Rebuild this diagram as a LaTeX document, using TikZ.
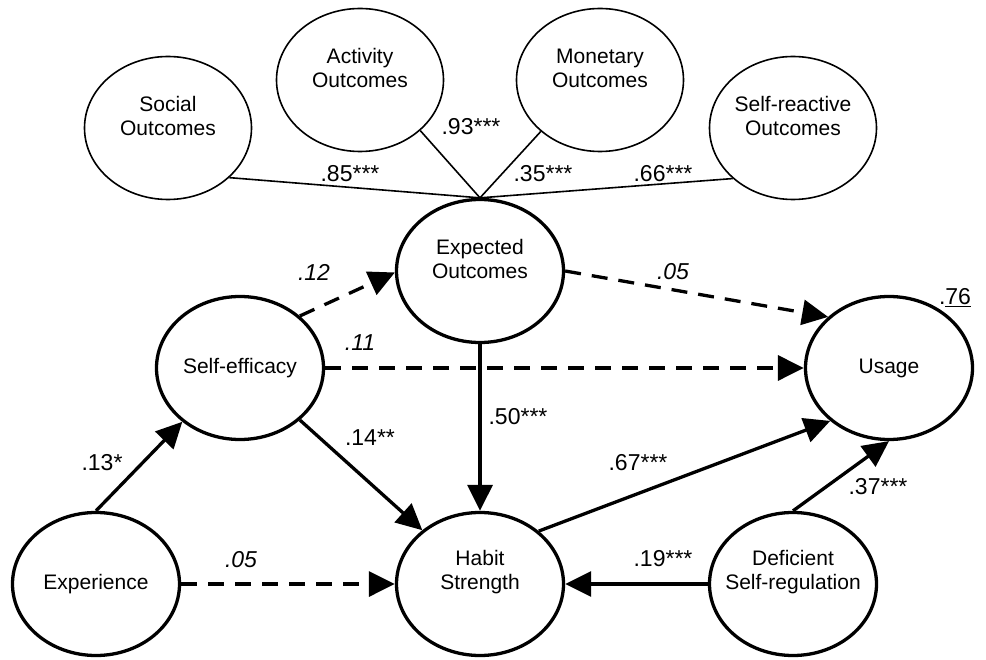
\documentclass[tikz,border=0pt]{standalone}
\usepackage{fontspec}
\setmainfont{Liberation Sans}
\usetikzlibrary{arrows.meta,shapes.geometric}
\begin{document}
\begin{tikzpicture}[x=1pt,y=-1pt,
  latent/.style={ellipse,draw,line width=3.3pt,minimum width=167pt,minimum height=143pt,inner sep=0pt},
  indicator/.style={ellipse,draw,line width=1.6pt,minimum width=167pt,minimum height=143pt,inner sep=0pt},
  vname/.style={align=center,font=\fontsize{21}{24}\selectfont,inner sep=0pt},
  coef/.style={font=\fontsize{23}{27}\selectfont,inner sep=0pt},
  nscoef/.style={font=\fontsize{23}{27}\selectfont\itshape,inner sep=0pt},
  effect/.style={line width=3.3pt,-{Triangle[length=26pt,width=25pt]}},
  weakeffect/.style={effect,dash pattern=on 16pt off 11pt},
  loading/.style={line width=1.6pt}
]
\useasboundingbox (0,0) rectangle (986,660);

% outcome indicators
\node[indicator] (soc) at (168,128) {};
\node[vname] at ([yshift=12pt]soc.center) {Social\\Outcomes};
\node[indicator] (act) at (360,80) {};
\node[vname] at ([yshift=12pt]act.center) {Activity\\Outcomes};
\node[indicator] (mon) at (600,80) {};
\node[vname] at ([yshift=12pt]mon.center) {Monetary\\Outcomes};
\node[indicator] (sre) at (793,128) {};
\node[vname] at ([yshift=12pt]sre.center) {Self-reactive\\Outcomes};

% latent constructs
\node[latent] (exo) at (480,271) {};
\node[vname] at ([yshift=12pt]exo.center) {Expected\\Outcomes};
\node[latent] (sef) at (240,368) {};
\node[vname] at (sef.center) {Self-efficacy};
\node[latent] (usg) at (889,368) {};
\node[vname] at (usg.center) {Usage};
\node[latent] (exp) at (96,584) {};
\node[vname] at (exp.center) {Experience};
\node[latent] (hab) at (480,584) {};
\node[vname] at ([yshift=12pt]hab.center) {Habit\\Strength};
\node[latent] (dsr) at (793,584) {};
\node[vname] at ([yshift=12pt]dsr.center) {Deficient\\Self-regulation};

% explained variance
\node[coef] (r2) at (955,298) {.\underline{76}};

% loadings
\draw[loading] (soc.-39) -- (exo.north);
\draw[loading] (act.-40) -- (exo.north);
\draw[loading] (mon.-139) -- (exo.north);
\draw[loading] (sre.-140) -- (exo.north);
\node[coef] at (350,174) {.85***};
\node[coef] at (471,127) {.93***};
\node[coef] at (543,174) {.35***};
\node[coef] at (663,174) {.66***};

% structural paths
\draw[weakeffect] (sef.41) -- (exo.181);
\draw[weakeffect] (exo.east) -- (usg.140);
\draw[weakeffect] (sef.east) -- (usg.west);
\draw[effect] (exo.south) -- (hab.north);
\draw[effect] (sef.-41) -- (hab.137);
\draw[effect] (exp.north) -- (sef.-137);
\draw[weakeffect] (exp.east) -- (hab.west);
\draw[effect] (hab.42) -- (usg.-138);
\draw[effect] (dsr.north) -- (usg.south);
\draw[effect] (dsr.west) -- (hab.east);

\node[nscoef] at (314,272) {.12};
\node[nscoef] at (673,272) {.05};
\node[nscoef] at (360,343) {.11};
\node[coef] at (518,417) {.50***};
\node[coef] at (370,438) {.14**};
\node[coef] at (102,463) {.13*};
\node[nscoef] at (241,560) {.05};
\node[coef] at (638,463) {.67***};
\node[coef] at (878,487) {.37***};
\node[coef] at (663,559) {.19***};
\end{tikzpicture}
\end{document}
